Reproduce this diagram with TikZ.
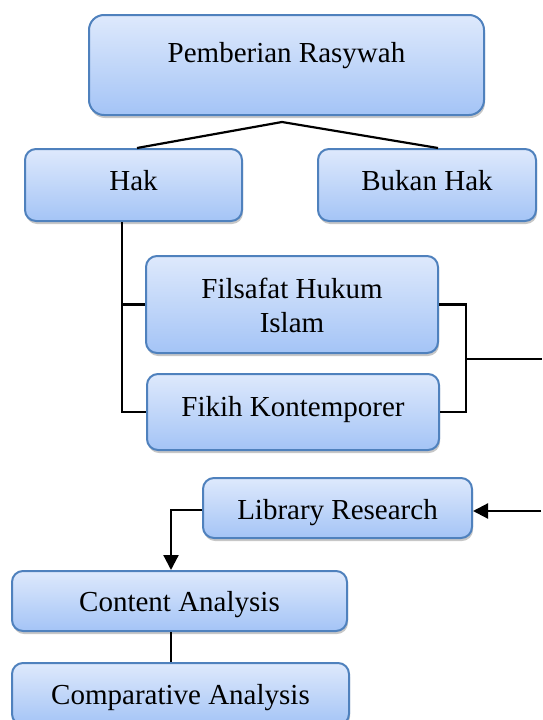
\documentclass[tikz,border=0pt]{standalone}
\usepackage{fontspec}
\setmainfont{Liberation Serif}
\usetikzlibrary{shadows,arrows.meta}
\definecolor{boxline}{RGB}{79,129,189}
\definecolor{boxtop}{RGB}{222,233,252}
\definecolor{boxbot}{RGB}{164,196,246}
\tikzset{
  box/.style={draw=boxline, line width=2pt, rounded corners=11pt,
    top color=boxtop, bottom color=boxbot, inner sep=0pt,
    drop shadow={shadow xshift=1pt, shadow yshift=-3pt, opacity=0.22, fill=black}},
  txt/.style={anchor=base, inner sep=0pt, font=\fontsize{29}{34}\selectfont, align=center},
  conn/.style={draw=black, line width=2.2pt},
  arr/.style={conn, -{Triangle[length=15pt,width=15pt]}}
}
\begin{document}
\begin{tikzpicture}[x=1pt,y=-1pt]
\useasboundingbox (0,0) rectangle (542,720);
% boxes
\node[box, rounded corners=15pt, minimum width=395pt, minimum height=100pt] (pr) at (286.5,65) {};
\node[box, minimum width=217pt, minimum height=72pt] (hak) at (133.5,185) {};
\node[box, minimum width=218pt, minimum height=72pt] (bh) at (427,185) {};
\node[box, minimum width=292pt, minimum height=97pt] (fhi) at (292,304.5) {};
\node[box, minimum width=292pt, minimum height=76pt] (fk) at (293,412) {};
\node[box, minimum width=269pt, minimum height=60pt] (lr) at (337.5,508) {};
\node[box, minimum width=335pt, minimum height=60pt] (ca) at (179.5,601) {};
\node[box, minimum width=337pt, minimum height=62pt] (cpa) at (180.5,694) {};
% texts
\node[txt] (prt) at (286.5,62) {Pemberian Rasywah};
\node[txt] (hakt) at (133.5,190) {Hak};
\node[txt] (bht) at (427,190) {Bukan Hak};
\node[txt] (fhit) at (292,332) {Filsafat Hukum\\Islam};
\node[txt] (fkt) at (293,416) {Fikih Kontemporer};
\node[txt] (lrt) at (337.5,519) {Library Research};
\node[txt] (cat) at (179.5,611) {Content Analysis};
\node[txt] (cpat) at (180.5,704) {Comparative Analysis};
% connectors
\coordinate (apex) at (282,122);
\draw[conn] ([xshift=3.5pt]hak.north) -- (apex) -- ([xshift=11pt]bh.north);
\draw[conn] ([xshift=-11.5pt]hak.south) |- (fk.west);
\draw[conn] (fhi.west) -| ([xshift=-11.5pt]hak.south);
\coordinate (br) at (466,359);
\coordinate (rend) at (542,359);
\draw[conn] (fhi.east) -| (br) |- (fk.east);
\draw[conn] (br) -- (rend);
\coordinate (rin) at (541,511);
\draw[arr] (rin) -- ([yshift=-3pt]lr.east);
\draw[arr] ([yshift=-2pt]lr.west) -| ([xshift=-8.5pt]ca.north);
\draw[conn] ([xshift=-8.5pt]ca.south) -- ([xshift=-8.5pt]ca.south |- cpa.north);
\end{tikzpicture}
\end{document}
